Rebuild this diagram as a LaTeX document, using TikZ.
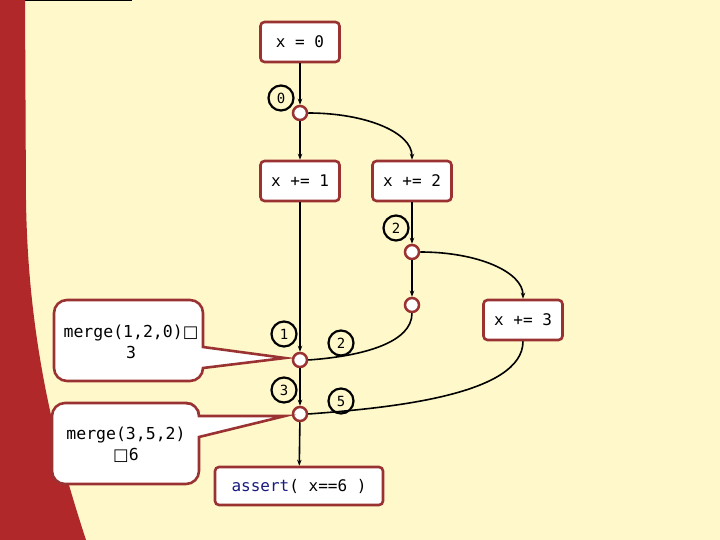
\documentclass[tikz,border=0pt]{standalone}
\usepackage{fontspec}
\setmonofont{DejaVu Sans Mono}
\newfontfamily\symfont{DejaVu Sans}
\usetikzlibrary{arrows.meta}
\definecolor{bgcream}{HTML}{FEF8CB}
\definecolor{bandred}{HTML}{B0282A}
\definecolor{boxred}{HTML}{9B3232}
\definecolor{kwblue}{HTML}{1A1A80}
\tikzset{
  stmt/.style={draw=boxred, line width=2.6pt, fill=white, rounded corners=4pt,
    minimum width=79pt, minimum height=40pt, inner sep=0pt,
    font=\fontsize{16}{19}\selectfont\ttfamily},
  junc/.style={circle, draw=boxred, line width=2.5pt, fill=white, minimum size=14pt, inner sep=0pt},
  tag/.style={circle, draw=black, line width=2.2pt, minimum size=25pt, inner sep=0pt,
    font=\fontsize{14}{16}\selectfont\ttfamily},
  conn/.style={line width=1.6pt, black},
  arr/.style={conn, -{Stealth[length=6pt,width=4.5pt]}},
  callout/.style={draw=boxred, line width=2.6pt, fill=white},
  ctext/.style={align=center, font=\fontsize{16.5}{21}\selectfont\ttfamily, inner sep=0pt}
}
\begin{document}
\begin{tikzpicture}[x=1pt,y=-1pt]
\useasboundingbox (0,0) rectangle (720,540);
\fill[bgcream] (0,0) rectangle (720,540);
% left red band
\fill[bandred] (0,0) -- (25,0) -- (26,200) .. controls (28,350) and (60,460) .. (86,540) -- (0,540) -- cycle;
\draw[line width=1.2pt, black] (25,0.5) -- (132,0.5);

% statement boxes
\node[stmt] (s0) at (300,42) {x = 0};
\node[stmt] (b1) at (300,181) {x += 1};
\node[stmt] (b2) at (412,181) {x += 2};
\node[stmt] (b3) at (523,320) {x += 3};
\node[stmt, minimum width=168pt, minimum height=38pt] (as) at (299,486) {\textcolor{kwblue}{assert}( x==6 )};

% junctions
\node[junc] (j0) at (300,113) {};
\node[junc] (j2a) at (412,252) {};
\node[junc] (j2b) at (412,305) {};
\node[junc] (jA) at (300,360) {};
\node[junc] (jB) at (300,414) {};

% connectors
\draw[arr] (s0) -- (j0);
\draw[arr] (j0) -- (b1);
\draw[arr] (j0.east) .. controls (365,113) and (412,132) .. (b2.north);
\draw[arr] (b1) -- (jA);
\draw[arr] (b2) -- (j2a);
\draw[arr] (j2a) -- (j2b);
\draw[arr] (j2a.east) .. controls (478,252) and (523,272) .. (b3.north);
\draw[conn] (j2b.south) .. controls (412,342) and (365,356) .. (jA.east);
\draw[conn] (b3.south) .. controls (523,395) and (390,408) .. (jB.east);
\draw[arr] (jA) -- (jB);
\draw[arr] (jB) -- (as);

% value tags
\node[tag] (t0) at (281,98) {0};
\node[tag] (t2) at (396,228) {2};
\node[tag] (t1) at (284,334) {1};
\node[tag] (t2b) at (341,343) {2};
\node[tag] (t3) at (284,390) {3};
\node[tag] (t5) at (341,401) {5};

% callouts
\coordinate (tipA) at (285,358);
\coordinate (tipB) at (285,416);
\draw[callout] (203,347) [rounded corners=13pt] -- (203,300) -- (54,300) -- (54,381) -- (203,381) [sharp corners] -- (203,368) -- (tipA) -- cycle;
\draw[callout] (199,416) [rounded corners=13pt] -- (199,403) -- (52,403) -- (52,484) -- (199,484) [sharp corners] -- (199,437) -- (tipB) -- cycle;
\fill[white] (198,416) -- (198,404.5) -- (185,404.5) -- (185,416) -- cycle;
\draw[boxred, line width=2.6pt] (186,403) arc[start angle=90, end angle=0, radius=13pt];
\node[ctext] (c1) at (131,342) {merge(1,2,0){\symfont □}\\3};
\node[ctext] (c2) at (126,445) {merge(3,5,2)\\{\symfont □}6};
\end{tikzpicture}
\end{document}
